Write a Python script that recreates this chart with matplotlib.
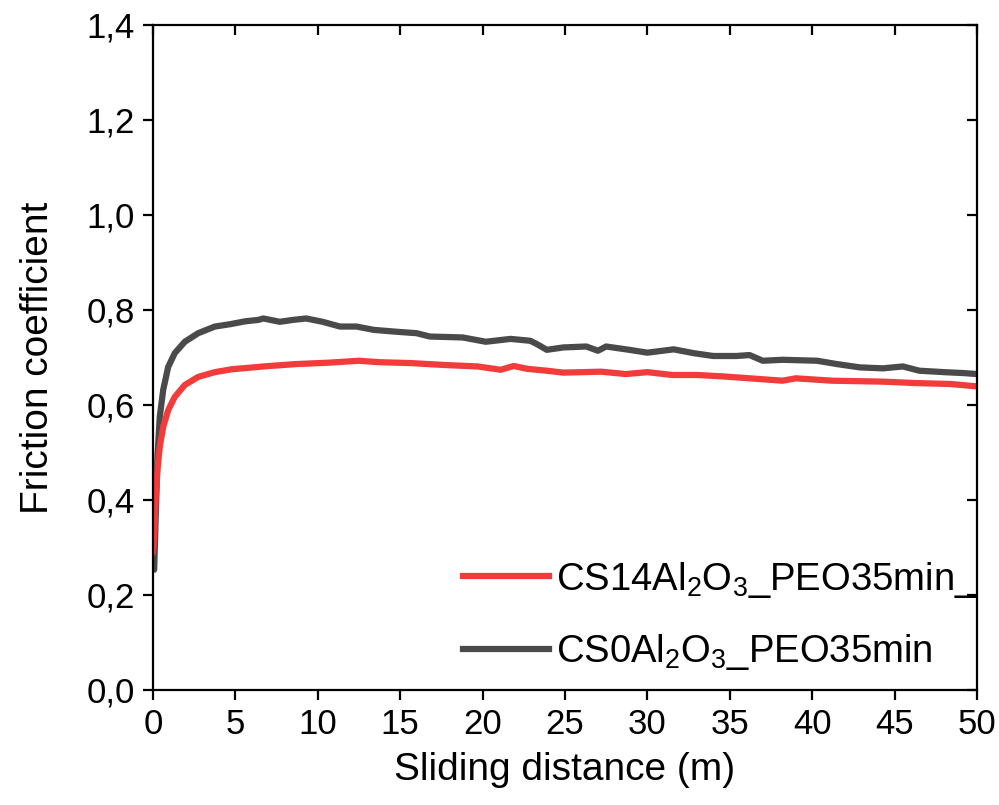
import matplotlib
matplotlib.use("Agg")
import matplotlib.pyplot as plt
from matplotlib.ticker import FuncFormatter, MultipleLocator

plt.rcParams['font.family'] = ['Liberation Sans', 'DejaVu Sans']
plt.rcParams['mathtext.default'] = 'regular'

# data
x_cs0 = [0.0, 0.08, 0.16, 0.28, 0.42, 0.63, 0.93, 1.33, 1.94, 2.75, 3.76, 4.7,
         5.6, 6.4, 6.7, 7.7, 8.5, 9.3, 10.3, 11.35, 12.36, 13.4, 14.8, 16.0,
         16.8, 18.8, 20.2, 21.7, 22.3, 22.9, 23.3, 23.9, 24.9, 26.3, 27.0, 27.5,
         28.9, 30.0, 31.6, 32.8, 34.0, 35.4, 36.2, 37.0, 38.2, 40.3, 41.5, 42.9,
         44.3, 45.5, 46.5, 48.0, 49.2, 50.0]
y_cs0 = [0.26, 0.253, 0.35, 0.49, 0.575, 0.632, 0.68, 0.709, 0.733, 0.751, 0.765, 0.770,
         0.776, 0.779, 0.782, 0.775, 0.779, 0.782, 0.775, 0.765, 0.765, 0.758, 0.754, 0.751,
         0.744, 0.742, 0.733, 0.739, 0.737, 0.735, 0.728, 0.716, 0.721, 0.723, 0.714, 0.723,
         0.716, 0.710, 0.717, 0.709, 0.703, 0.703, 0.705, 0.693, 0.695, 0.693, 0.686, 0.679,
         0.677, 0.681, 0.672, 0.669, 0.667, 0.665]

x_cs14 = [0.0, 0.04, 0.16, 0.28, 0.42, 0.63, 0.93, 1.33, 1.94, 2.75, 3.76, 4.77,
          6.4, 6.7, 8.7, 10.7, 12.5, 13.7, 15.7, 17.7, 19.7, 21.1, 21.9, 22.7,
          23.9, 24.9, 27.2, 28.7, 30.0, 31.5, 33.0, 34.6, 36.2, 38.2, 39.0, 41.2,
          44.3, 46.3, 48.4, 50.0]
y_cs14 = [0.29, 0.30, 0.393, 0.463, 0.512, 0.554, 0.589, 0.617, 0.642, 0.659, 0.669, 0.675,
          0.680, 0.681, 0.686, 0.689, 0.693, 0.690, 0.688, 0.684, 0.681, 0.674, 0.682, 0.676,
          0.672, 0.668, 0.670, 0.665, 0.669, 0.663, 0.663, 0.660, 0.656, 0.651, 0.656, 0.651,
          0.649, 0.646, 0.644, 0.639]

label_cs14 = 'CS14Al$_2$O$_3$_PEO35min_'
label_cs0 = 'CS0Al$_2$O$_3$_PEO35min'

fig = plt.figure(figsize=(9.99, 8.05), dpi=100)
ax = fig.add_axes([0.153, 0.143, 0.825, 0.826])

l0, = ax.plot(x_cs0, y_cs0, color='#4a4a4a', lw=4.5, label=label_cs0)
l14, = ax.plot(x_cs14, y_cs14, color='#f23b3b', lw=4.5, label=label_cs14)

ax.set_xlim(0, 50)
ax.set_ylim(0, 1.4)
ax.xaxis.set_major_locator(MultipleLocator(5))
ax.yaxis.set_major_locator(MultipleLocator(0.2))
ax.yaxis.set_major_formatter(FuncFormatter(lambda v, p: f"{v:.1f}".replace('.', ',')))

for s in ax.spines.values():
    s.set_linewidth(1.6)
ax.tick_params(axis='both', which='major', direction='out', length=7, width=1.6,
               labelsize=25, pad=6)
# inward ticks on top/right without labels
ax.tick_params(top=True, right=True)
for t in ax.xaxis.get_major_ticks():
    t.tick2line.set_marker(matplotlib.lines.TICKDOWN)
for t in ax.yaxis.get_major_ticks():
    t.tick2line.set_marker(matplotlib.lines.TICKLEFT)

ax.set_xlabel('Sliding distance (m)', fontsize=28, labelpad=8)
ax.set_ylabel('Friction coefficient', fontsize=28, labelpad=22)

ax.legend(handles=[l14, l0], loc='lower right', frameon=False, fontsize=27.5,
          handlelength=2.25, handletextpad=0.2, labelspacing=0.85,
          bbox_to_anchor=(1.043, -0.025))

fig.savefig('out.png', dpi=100)
